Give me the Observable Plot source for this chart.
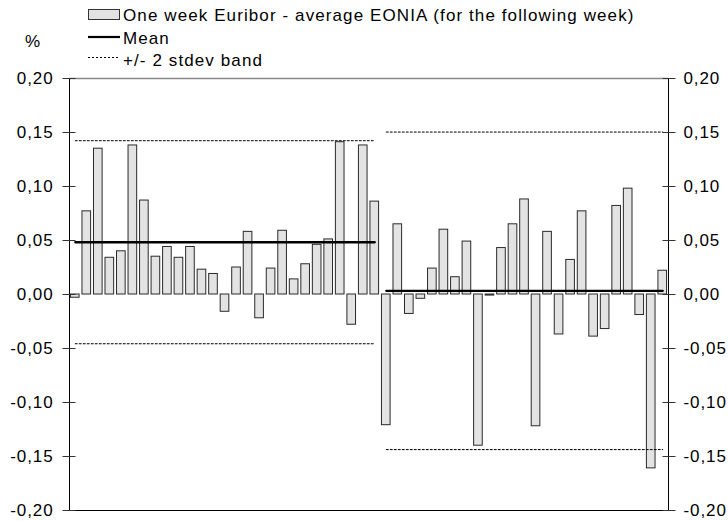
<!DOCTYPE html>
<html><head><meta charset="utf-8">
<script src="https://cdn.jsdelivr.net/npm/d3@7"></script>
<script src="https://cdn.jsdelivr.net/npm/@observablehq/plot@0.6"></script>
<style>
body{margin:0;background:#fff;font-family:"Liberation Sans",Arial,sans-serif;}
#legend{display:block;width:728px;height:70px;}
#legend text{font-size:17px;letter-spacing:1.1px;fill:#000;}
#chart svg text{letter-spacing:0.9px;}
</style></head><body>
<svg id="legend" width="728" height="70"></svg>
<div id="chart"></div>
<script>
// Weekly observations (index) and spread values, in percentage points
const weeks = d3.range(1, 53);
const spread = [
  -0.003, 0.077, 0.135, 0.034, 0.040, 0.138, 0.087, 0.035, 0.044, 0.034,
   0.044, 0.023, 0.019,-0.016, 0.025, 0.058,-0.022, 0.024, 0.059, 0.014,
   0.028, 0.046, 0.051, 0.141,-0.028, 0.138, 0.086,
  -0.121, 0.065,-0.018,-0.004, 0.024, 0.060, 0.016, 0.049,-0.140,-0.001,
   0.043, 0.065, 0.088,-0.122, 0.058,-0.037, 0.032, 0.077,-0.039,-0.032,
   0.082, 0.098,-0.019,-0.161, 0.022
];
// Two sub-periods: mean and 2-stdev half-width
const periodStart = [1, 28];
const periodEnd = [27, 52];
const periodMean = [0.0484, 0.0034];
const periodTwoSd = [0.0940, 0.1470];
const yTicks = [-0.20, -0.15, -0.10, -0.05, 0.00, 0.05, 0.10, 0.15, 0.20];
const legendLabels = ["One week Euribor - average EONIA (for the following week)", "Mean", "+/- 2 stdev band"];
const unitLabel = "%";

const fmt = d => d.toFixed(2).replace(".", ",");
const bars = weeks.map((w, i) => ({week: w, value: spread[i]}));
const meanSeg = periodStart.flatMap((s, i) => [
  {week: s, y: periodMean[i], p: i}, {week: periodEnd[i], y: periodMean[i], p: i}]);
const bandSeg = periodStart.flatMap((s, i) => [
  {week: s, y: periodMean[i] + periodTwoSd[i], p: "u" + i}, {week: periodEnd[i], y: periodMean[i] + periodTwoSd[i], p: "u" + i},
  {week: s, y: periodMean[i] - periodTwoSd[i], p: "l" + i}, {week: periodEnd[i], y: periodMean[i] - periodTwoSd[i], p: "l" + i}]);

// Legend (SVG above the plot)
const lg = d3.select("#legend");
lg.append("rect").attr("x", 88.5).attr("y", 9.5).attr("width", 31).attr("height", 10)
  .attr("fill", "#e3e3e3").attr("stroke", "#333");
lg.append("line").attr("x1", 88).attr("x2", 120).attr("y1", 37).attr("y2", 37)
  .attr("stroke", "#000").attr("stroke-width", 2.2);
lg.append("line").attr("x1", 88).attr("x2", 120).attr("y1", 57.5).attr("y2", 57.5)
  .attr("stroke", "#000").attr("stroke-width", 1).attr("stroke-dasharray", "2,2");
[20.7, 44.3, 65.5].forEach((yy, i) => lg.append("text").attr("x", 123).attr("y", yy).text(legendLabels[i]));
lg.append("text").attr("x", 25).attr("y", 47.3).text(unitLabel);

const chart = Plot.plot({
  width: 728, height: 451,
  marginLeft: 69, marginRight: 60, marginTop: 8, marginBottom: 11,
  style: {fontFamily: "Liberation Sans, Arial, sans-serif", fontSize: "17px", background: "#fff", color: "#000"},
  x: {type: "band", domain: weeks, paddingInner: 0.25, paddingOuter: 0.125, round: false, axis: null},
  y: {domain: [-0.2, 0.2], axis: null},
  marks: [
    Plot.ruleY([0.2], {stroke: "#888", strokeWidth: 1.5}),
    Plot.barY(bars, {x: "week", y: "value", fill: "#e3e3e3", stroke: "#2a2a2a", strokeWidth: 1}),
    Plot.lineY(bandSeg, {x: "week", y: "y", z: "p", stroke: "#000", strokeWidth: 1, strokeDasharray: "2,2"}),
    Plot.lineY(meanSeg, {x: "week", y: "y", z: "p", stroke: "#000", strokeWidth: 2.3}),
    Plot.ruleY([-0.2], {stroke: "#000", strokeWidth: 1, insetLeft: -6, insetRight: -7}),
    Plot.frame({anchor: "left", stroke: "#000"}),
    Plot.frame({anchor: "right", stroke: "#000"}),
    Plot.axisY(yTicks, {anchor: "left", tickSize: 13, dx: 6.5, tickFormat: () => "", stroke: "#333"}),
    Plot.axisY(yTicks, {anchor: "right", tickSize: 13, dx: -6.5, tickFormat: () => "", stroke: "#333"}),
    Plot.axisY(yTicks, {anchor: "left", tickSize: 0, tickPadding: 16, tickFormat: fmt, fontSize: 17, fill: "#000"}),
    Plot.axisY(yTicks, {anchor: "right", tickSize: 0, tickPadding: 15, tickFormat: fmt, fontSize: 17, fill: "#000"})
  ]
});
document.getElementById("chart").appendChild(chart);
</script>
</body></html>
